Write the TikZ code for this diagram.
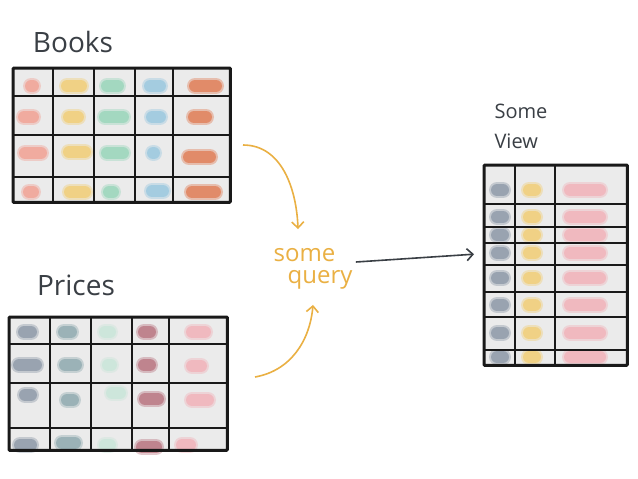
\documentclass[tikz,border=0pt]{standalone}
\usepackage{fontspec}
\setmainfont{Open Sans}
\usetikzlibrary{arrows.meta}

\definecolor{ink}{HTML}{3A3F45}
\definecolor{cellgray}{HTML}{EBEBEB}
\definecolor{querygold}{HTML}{EAB043}
% books palette
\definecolor{bsalmon}{HTML}{F39585}
\definecolor{byellow}{HTML}{F2C962}
\definecolor{bmint}{HTML}{8AD2B2}
\definecolor{bblue}{HTML}{8CC2DD}
\definecolor{borange}{HTML}{DF6A3C}
% prices palette
\definecolor{pslate}{HTML}{7D8B9C}
\definecolor{pteal}{HTML}{7F9EA6}
\definecolor{pmint}{HTML}{C3E5D6}
\definecolor{pred}{HTML}{B0606E}
\definecolor{ppink}{HTML}{F2A8B0}

\tikzset{
  tablebox/.style = {
    rectangle, fill=cellgray, inner sep=0pt, anchor=north west
  },
  frame/.style = { draw=black!90, line width=3pt, rounded corners=1pt },
  gridline/.style = { draw=black!90, line width=2.4pt },
  title/.style = {
    font=\fontsize{28}{30}\selectfont, text=ink, inner sep=2pt
  },
  subtitle/.style = {
    font=\fontsize{20}{30}\selectfont, text=ink, align=left
  },
  querytext/.style = {
    font=\fontsize{24}{22}\selectfont, text=querygold, align=left
  },
  smear/.style = { line cap=round, line width=12pt, opacity=.6 },
  smear halo/.style = { line cap=round, line width=16pt, opacity=.35 },
  qarrow/.style = {
    draw=querygold, line width=1.6pt,
    -{Straight Barb[length=6pt,width=12pt]}
  },
  varrow/.style = {
    draw=ink, line width=1.6pt,
    -{Straight Barb[length=6pt,width=12pt]}
  }
}

\newcommand{\smudge}[4]{%
  \draw[smear halo, color=#4] (#1,#3) -- (#2,#3);
  \draw[smear, color=#4] (#1,#3) -- (#2,#3);}

\begin{document}
\begin{tikzpicture}[x=1pt, y=-1pt]

    \useasboundingbox (0,0) rectangle (638,479);
    \fill [white] (0,0) rectangle (638,479);

    % ------------------------------------------------------------- Tables
    \node [tablebox, minimum width=217pt, minimum height=134pt] (books)  at (13,68)   {};
    \node [tablebox, minimum width=218pt, minimum height=133pt] (prices) at (9,317)   {};
    \node [tablebox, minimum width=143pt, minimum height=200pt] (view)   at (484,165) {};

    % ------------------------------------------------------------- Titles
    \node [title] (books_title)  at (73,42)  {Books};
    \node [title] (prices_title) at (76,285) {Prices};
    \node [subtitle] (view_title) at (521,126) {Some\\View};
    \node [querytext] (query) at (313,269) {some\\\hspace*{14pt}query};

    % --------------------------------------------------------- Books cells
    \foreach \a/\b/\y/\c in {
        31/33/86/bsalmon, 67/81/86/byellow, 107/118/86/bmint, 150/160/86/bblue, 195/216/86/borange,
        24/33/117/bsalmon, 69/78/117/byellow, 105/123/117/bmint, 152/160/117/bblue, 194/206/117/borange,
        25/41/153/bsalmon, 69/85/152/byellow, 107/123/153/bmint, 153/154/153/bblue, 189/210/157/borange,
        29/33/192/bsalmon, 70/85/192/byellow, 109/113/192/bmint, 152/163/191/bblue, 192/215/192/borange}
      \smudge{\a}{\b}{\y}{\c};
    \foreach \x in {53,94,135,173}
      \draw [gridline] (\x,68) -- (\x,202);
    \foreach \y in {96,135,177}
      \draw [gridline] (13,\y) -- (230,\y);
    \draw [frame] (books.north west) rectangle (books.south east);

    % -------------------------------------------------------- Prices cells
    \foreach \a/\b/\y/\c in {
        24/31/332/pslate, 64/71/332/pteal, 105/110/332/pmint, 144/150/332/pred, 192/205/332/ppink,
        19/36/365/pslate, 65/76/365/pteal, 108/111/365/pmint, 144/150/365/pred, 192/201/366/ppink,
        25/31/395/pslate, 67/73/400/pteal, 112/120/393/pmint, 145/158/399/pred, 192/208/400/ppink,
        20/31/445/pslate, 62/75/443/pteal, 105/110/445/pmint, 142/156/447/pred, 182/190/445/ppink}
      \smudge{\a}{\b}{\y}{\c};
    \foreach \x in {50,91,132,169}
      \draw [gridline] (\x,317) -- (\x,450);
    \foreach \y in {344,383,428}
      \draw [gridline] (9,\y) -- (227,\y);
    \draw [frame] (prices.north west) rectangle (prices.south east);

    % ---------------------------------------------------------- View cells
    \foreach \y in {190,217,235,253,278,305,333,357} {
      \smudge{497}{503}{\y}{pslate};
      \smudge{529}{535}{\y}{byellow};
      \smudge{570}{600}{\y}{ppink};
    }
    \foreach \x in {515,555}
      \draw [gridline] (\x,165) -- (\x,365);
    \foreach \y in {204,227,243,265,292,317,350}
      \draw [gridline] (484,\y) -- (627,\y);
    \draw [frame] (view.north west) rectangle (view.south east);

    % ---------------------------------------------------------- Connectors
    \coordinate (books_out)  at (243,145);
    \coordinate (prices_out) at (255,377);

    \draw [qarrow] (books_out) to [out=0, in=92] ([xshift=-15pt, yshift=16pt]query.north);
    \draw [qarrow] (prices_out) to [out=10, in=-95] ([yshift=-12pt]query.south);
    \draw [varrow] ([yshift=7pt]query.east) -- ([xshift=-10pt, yshift=11pt]view.west);

\end{tikzpicture}
\end{document}
